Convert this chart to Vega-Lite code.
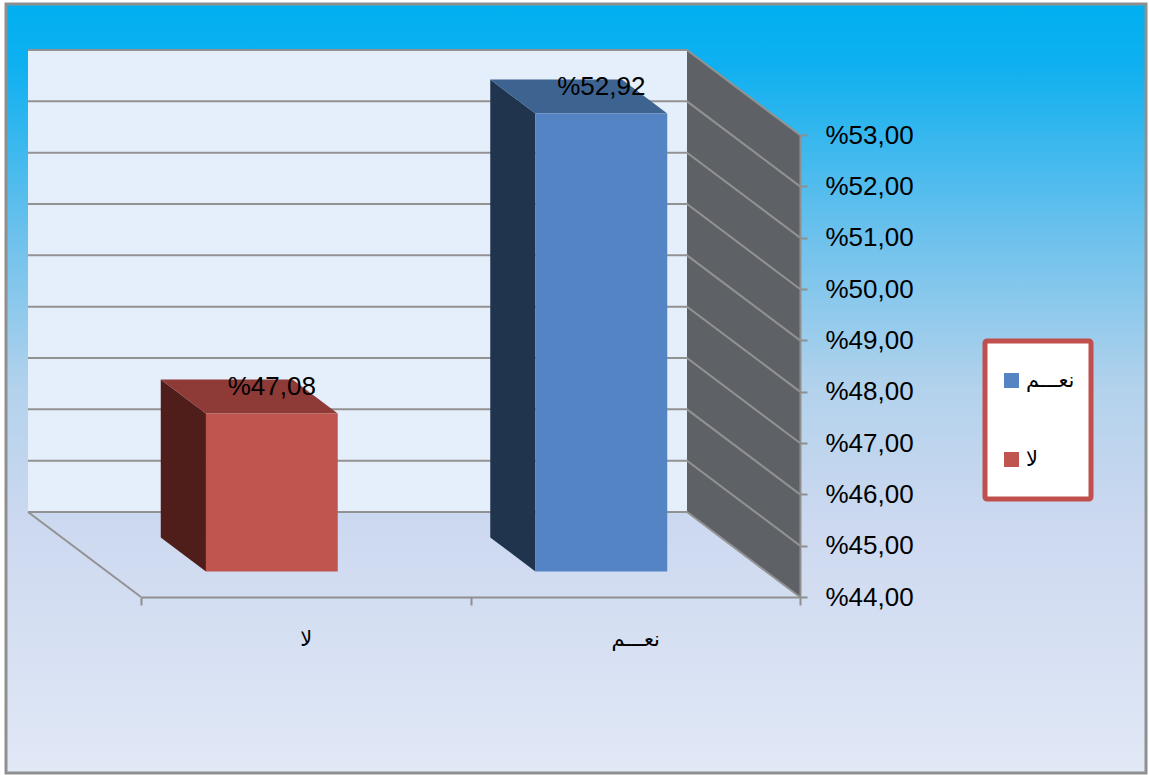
{
  "$schema": "https://vega.github.io/schema/vega-lite/v6.json",
  "width": 1140,
  "height": 769,
  "autosize": "none",
  "padding": {"left": 6, "top": 4, "right": 3, "bottom": 2},
  "background": "#ffffff",
  "config": {
    "view": {
      "fill": {
        "x1": 0, "y1": 0, "x2": 0, "y2": 1,
        "gradient": "linear",
        "stops": [
          {"offset": 0, "color": "#00b0f0"},
          {"offset": 0.08, "color": "#0fb0f0"},
          {"offset": 0.3, "color": "#6cc1ec"},
          {"offset": 0.5, "color": "#b3d2ec"},
          {"offset": 0.68, "color": "#cdd9f0"},
          {"offset": 1, "color": "#e1e8f6"}
        ]
      },
      "stroke": "#8f8f8f",
      "strokeWidth": 3
    },
    "font": "Liberation Sans, DejaVu Sans",
    "legend": {"strokeWidth": 5, "cornerRadius": 2}
  },
  "datasets": {
    "bars": [
      {"answer": "لا", "share": 47.08, "slot": 0.5},
      {"answer": "نعـــم", "share": 52.92, "slot": 1.5}
    ],
    "walls": [
      {"wall": "back", "corner": 1, "span": 0, "level": 53, "depth": 1},
      {"wall": "back", "corner": 2, "span": 2, "level": 53, "depth": 1},
      {"wall": "back", "corner": 3, "span": 2, "level": 44, "depth": 1},
      {"wall": "back", "corner": 4, "span": 0, "level": 44, "depth": 1},
      {"wall": "right", "corner": 1, "span": 2, "level": 53, "depth": 1},
      {"wall": "right", "corner": 2, "span": 2, "level": 53, "depth": 0},
      {"wall": "right", "corner": 3, "span": 2, "level": 44, "depth": 0},
      {"wall": "right", "corner": 4, "span": 2, "level": 44, "depth": 1}
    ],
    "gridlines": [
      {"line": "53", "corner": 1, "span": 0, "level": 53, "depth": 1},
      {"line": "53", "corner": 2, "span": 2, "level": 53, "depth": 1},
      {"line": "53", "corner": 3, "span": 2, "level": 53, "depth": 0},
      {"line": "52", "corner": 1, "span": 0, "level": 52, "depth": 1},
      {"line": "52", "corner": 2, "span": 2, "level": 52, "depth": 1},
      {"line": "52", "corner": 3, "span": 2, "level": 52, "depth": 0},
      {"line": "51", "corner": 1, "span": 0, "level": 51, "depth": 1},
      {"line": "51", "corner": 2, "span": 2, "level": 51, "depth": 1},
      {"line": "51", "corner": 3, "span": 2, "level": 51, "depth": 0},
      {"line": "50", "corner": 1, "span": 0, "level": 50, "depth": 1},
      {"line": "50", "corner": 2, "span": 2, "level": 50, "depth": 1},
      {"line": "50", "corner": 3, "span": 2, "level": 50, "depth": 0},
      {"line": "49", "corner": 1, "span": 0, "level": 49, "depth": 1},
      {"line": "49", "corner": 2, "span": 2, "level": 49, "depth": 1},
      {"line": "49", "corner": 3, "span": 2, "level": 49, "depth": 0},
      {"line": "48", "corner": 1, "span": 0, "level": 48, "depth": 1},
      {"line": "48", "corner": 2, "span": 2, "level": 48, "depth": 1},
      {"line": "48", "corner": 3, "span": 2, "level": 48, "depth": 0},
      {"line": "47", "corner": 1, "span": 0, "level": 47, "depth": 1},
      {"line": "47", "corner": 2, "span": 2, "level": 47, "depth": 1},
      {"line": "47", "corner": 3, "span": 2, "level": 47, "depth": 0},
      {"line": "46", "corner": 1, "span": 0, "level": 46, "depth": 1},
      {"line": "46", "corner": 2, "span": 2, "level": 46, "depth": 1},
      {"line": "46", "corner": 3, "span": 2, "level": 46, "depth": 0},
      {"line": "45", "corner": 1, "span": 0, "level": 45, "depth": 1},
      {"line": "45", "corner": 2, "span": 2, "level": 45, "depth": 1},
      {"line": "45", "corner": 3, "span": 2, "level": 45, "depth": 0},
      {"line": "44", "corner": 1, "span": 0, "level": 44, "depth": 1},
      {"line": "44", "corner": 2, "span": 2, "level": 44, "depth": 1},
      {"line": "44", "corner": 3, "span": 2, "level": 44, "depth": 0},
      {"line": "floor", "corner": 1, "span": 0, "level": 44, "depth": 1},
      {"line": "floor", "corner": 2, "span": 0, "level": 44, "depth": 0}
    ],
    "faces": [
      {"answer": "لا", "face": "side", "corner": 1, "span": 0.3, "level": 47.08, "depth": 0.3},
      {"answer": "لا", "face": "side", "corner": 2, "span": 0.3, "level": 47.08, "depth": 0.7},
      {"answer": "لا", "face": "side", "corner": 3, "span": 0.3, "level": 44, "depth": 0.7},
      {"answer": "لا", "face": "side", "corner": 4, "span": 0.3, "level": 44, "depth": 0.3},
      {"answer": "لا", "face": "top", "corner": 1, "span": 0.3, "level": 47.08, "depth": 0.3},
      {"answer": "لا", "face": "top", "corner": 2, "span": 0.7, "level": 47.08, "depth": 0.3},
      {"answer": "لا", "face": "top", "corner": 3, "span": 0.7, "level": 47.08, "depth": 0.7},
      {"answer": "لا", "face": "top", "corner": 4, "span": 0.3, "level": 47.08, "depth": 0.7},
      {"answer": "لا", "face": "front", "corner": 1, "span": 0.3, "level": 47.08, "depth": 0.3},
      {"answer": "لا", "face": "front", "corner": 2, "span": 0.7, "level": 47.08, "depth": 0.3},
      {"answer": "لا", "face": "front", "corner": 3, "span": 0.7, "level": 44, "depth": 0.3},
      {"answer": "لا", "face": "front", "corner": 4, "span": 0.3, "level": 44, "depth": 0.3},
      {"answer": "نعـــم", "face": "side", "corner": 1, "span": 1.3, "level": 52.92, "depth": 0.3},
      {"answer": "نعـــم", "face": "side", "corner": 2, "span": 1.3, "level": 52.92, "depth": 0.7},
      {"answer": "نعـــم", "face": "side", "corner": 3, "span": 1.3, "level": 44, "depth": 0.7},
      {"answer": "نعـــم", "face": "side", "corner": 4, "span": 1.3, "level": 44, "depth": 0.3},
      {"answer": "نعـــم", "face": "top", "corner": 1, "span": 1.3, "level": 52.92, "depth": 0.3},
      {"answer": "نعـــم", "face": "top", "corner": 2, "span": 1.7, "level": 52.92, "depth": 0.3},
      {"answer": "نعـــم", "face": "top", "corner": 3, "span": 1.7, "level": 52.92, "depth": 0.7},
      {"answer": "نعـــم", "face": "top", "corner": 4, "span": 1.3, "level": 52.92, "depth": 0.7},
      {"answer": "نعـــم", "face": "front", "corner": 1, "span": 1.3, "level": 52.92, "depth": 0.3},
      {"answer": "نعـــم", "face": "front", "corner": 2, "span": 1.7, "level": 52.92, "depth": 0.3},
      {"answer": "نعـــم", "face": "front", "corner": 3, "span": 1.7, "level": 44, "depth": 0.3},
      {"answer": "نعـــم", "face": "front", "corner": 4, "span": 1.3, "level": 44, "depth": 0.3}
    ]
  },
  "encoding": {
    "x": {
      "field": "span",
      "type": "quantitative",
      "scale": {"domain": [0, 2], "range": [135, 794], "nice": false, "zero": false},
      "axis": {
        "orient": "bottom",
        "offset": -176,
        "title": null,
        "grid": false,
        "values": [0, 0.5, 1, 1.5, 2],
        "labelExpr": "datum.value === 0.5 ? 'لا' : datum.value === 1.5 ? 'نعـــم' : ''",
        "labelFontSize": 21,
        "labelColor": "#000000",
        "labelPadding": 23,
        "labelOverlap": false,
        "labelFlush": false,
        "domainColor": "#8f8f8f",
        "domainWidth": 2,
        "tickColor": "#8f8f8f",
        "tickWidth": 2,
        "tickSize": 8,
        "tickOpacity": {"expr": "datum.value % 1 === 0 ? 1 : 0"}
      }
    },
    "y": {
      "field": "level",
      "type": "quantitative",
      "scale": {"domain": [44, 53], "range": [593, 131], "nice": false, "zero": false},
      "axis": {
        "orient": "right",
        "offset": -346,
        "title": null,
        "grid": false,
        "values": [44, 45, 46, 47, 48, 49, 50, 51, 52, 53],
        "labelExpr": "'%' + replace(format(datum.value, '.2f'), '.', ',')",
        "labelFontSize": 26,
        "labelColor": "#000000",
        "labelPadding": 18,
        "labelOverlap": false,
        "labelFlush": false,
        "domainColor": "#8f8f8f",
        "domainWidth": 2,
        "tickColor": "#8f8f8f",
        "tickWidth": 2,
        "tickSize": 7,
        "zindex": 1
      }
    },
    "order": {"field": "corner", "type": "quantitative"}
  },
  "layer": [
    {
      "data": {"name": "walls"},
      "transform": [{"filter": "datum.wall === 'back'"}],
      "mark": {"type": "line", "fill": "#e4effb", "strokeWidth": 0, "xOffset": {"expr": "-113 * datum.depth"}, "yOffset": {"expr": "-85 * datum.depth"}},
      "encoding": {"detail": {"field": "wall"}}
    },
    {
      "data": {"name": "walls"},
      "transform": [{"filter": "datum.wall === 'right'"}],
      "mark": {"type": "line", "fill": "#5e6267", "strokeWidth": 0, "xOffset": {"expr": "-113 * datum.depth"}, "yOffset": {"expr": "-85 * datum.depth"}},
      "encoding": {"detail": {"field": "wall"}}
    },
    {
      "data": {"name": "gridlines"},
      "mark": {"type": "line", "stroke": "#929292", "strokeWidth": 2, "strokeJoin": "miter", "xOffset": {"expr": "-113 * datum.depth"}, "yOffset": {"expr": "-85 * datum.depth"}},
      "encoding": {"detail": {"field": "line"}}
    },
    {
      "data": {"name": "faces"},
      "transform": [{"filter": "datum.face === 'side'"}],
      "mark": {"type": "line", "strokeWidth": 0, "xOffset": {"expr": "-113 * datum.depth"}, "yOffset": {"expr": "-85 * datum.depth"}},
      "encoding": {
        "fill": {
          "field": "answer",
          "scale": {"domain": ["نعـــم", "لا"], "range": ["#20344e", "#4f1e1b"]},
          "legend": null
        }
      }
    },
    {
      "data": {"name": "faces"},
      "transform": [{"filter": "datum.face === 'top'"}],
      "mark": {"type": "line", "strokeWidth": 0, "xOffset": {"expr": "-113 * datum.depth"}, "yOffset": {"expr": "-85 * datum.depth"}},
      "encoding": {
        "fill": {
          "field": "answer",
          "scale": {"domain": ["نعـــم", "لا"], "range": ["#3d6391", "#8e3a37"]},
          "legend": null
        }
      }
    },
    {
      "data": {"name": "faces"},
      "transform": [{"filter": "datum.face === 'front'"}],
      "mark": {"type": "line", "strokeWidth": 0, "xOffset": {"expr": "-113 * datum.depth"}, "yOffset": {"expr": "-85 * datum.depth"}},
      "encoding": {
        "fill": {
          "field": "answer",
          "scale": {"domain": ["نعـــم", "لا"], "range": ["#5484c3", "#c0544e"]},
          "legend": {
            "orient": "none",
            "legendX": 979,
            "legendY": 337,
            "title": null,
            "fillColor": "#ffffff",
            "strokeColor": "#c0504d",
            "padding": 16,
            "symbolType": "square",
            "symbolSize": 225,
            "symbolStrokeWidth": 0,
            "symbolOpacity": 1,
            "clipHeight": 47,
            "rowPadding": 32,
            "labelFontSize": 21,
            "labelColor": "#000000",
            "labelOffset": 4
          }
        }
      }
    },
    {
      "data": {"name": "bars"},
      "mark": {"type": "text", "fontSize": 26, "color": "#000000", "dx": -34, "dy": -52, "text": {"expr": "'%' + replace(format(datum.share, '.2f'), '.', ',')"}},
      "encoding": {
        "x": {"field": "slot", "type": "quantitative"},
        "y": {"field": "share", "type": "quantitative"},
        "order": null
      }
    }
  ],
  "resolve": {"scale": {"fill": "independent"}}
}
